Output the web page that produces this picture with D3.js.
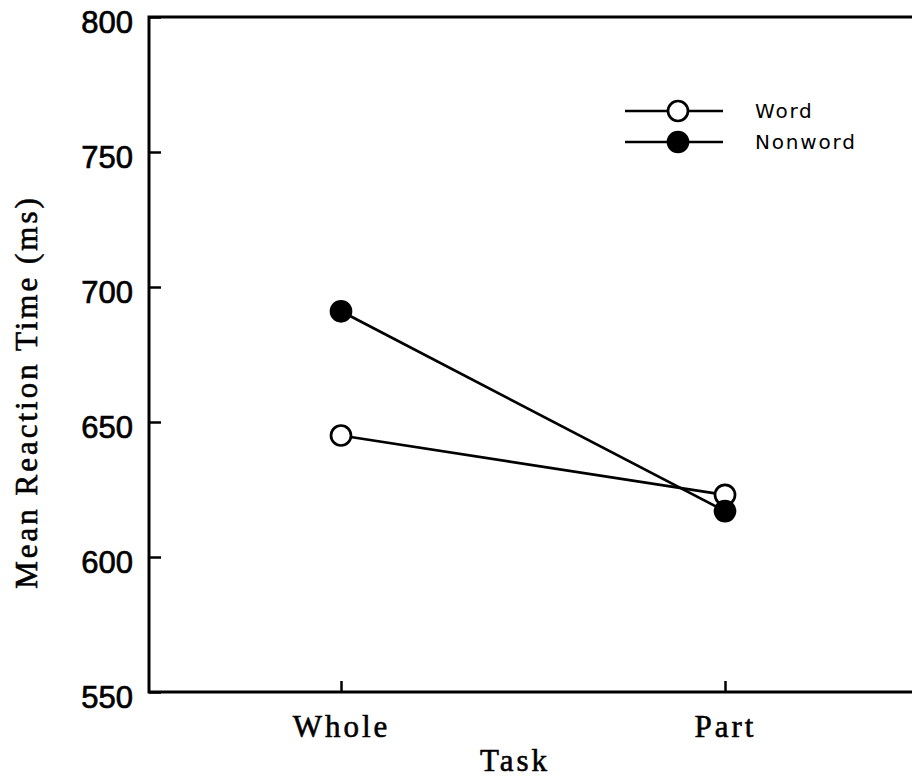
<!DOCTYPE html>
<html>
<head>
<meta charset="utf-8">
<script src="https://cdn.jsdelivr.net/npm/d3@7/dist/d3.min.js"></script>
<style>
  html, body { margin: 0; padding: 0; background: #fff; }
  svg { display: block; }
</style>
</head>
<body>
<script>
// Task conditions on the x axis
const tasks = ["Whole", "Part"];
// Mean reaction times (ms) per stimulus type
const wordRT = [645, 623];
const nonwordRT = [691, 617];
const seriesNames = ["Word", "Nonword"];
const yTicks = [550, 600, 650, 700, 750, 800];

const W = 912, H = 782;
const margin = { left: 149, right: 917, top: 17, bottom: 692 };

const svg = d3.select("body").append("svg")
  .attr("width", W).attr("height", H);

const x = d3.scalePoint().domain(tasks).range([margin.left, margin.right]).padding(0.5);
const y = d3.scaleLinear().domain([550, 800]).range([margin.bottom, margin.top]);

const serif = "'Liberation Serif', 'Times New Roman', serif";
const sans = "'Liberation Sans', Arial, sans-serif";

// frame around the plotting area
svg.append("rect")
  .attr("x", margin.left).attr("y", margin.top)
  .attr("width", margin.right - margin.left)
  .attr("height", margin.bottom - margin.top)
  .attr("fill", "none").attr("stroke", "#000").attr("stroke-width", 3);

// y axis: ticks pointing into the plot
const yAxis = svg.append("g")
  .attr("transform", `translate(${margin.left},0)`)
  .call(d3.axisLeft(y).tickValues(yTicks).tickSize(-12).tickPadding(16));
yAxis.select(".domain").remove();
yAxis.selectAll(".tick line").attr("stroke", "#000").attr("stroke-width", 2.5);
yAxis.selectAll(".tick text")
  .attr("dy", "0.5em")
  .attr("fill", "#000")
  .attr("stroke", "#000").attr("stroke-width", 0.7)
  .style("font-family", sans)
  .style("font-size", "31px");

// x axis: ticks pointing up
const xAxis = svg.append("g")
  .attr("transform", `translate(0,${margin.bottom})`)
  .call(d3.axisBottom(x).tickSize(-11).tickPadding(20));
xAxis.select(".domain").remove();
xAxis.selectAll(".tick line").attr("stroke", "#000").attr("stroke-width", 2.5);
xAxis.selectAll(".tick text")
  .attr("y", 45).attr("dy", 0)
  .attr("fill", "#000")
  .attr("stroke", "#000").attr("stroke-width", 0.6)
  .style("font-family", serif)
  .style("font-size", "31px")
  .style("letter-spacing", "3px");

// axis titles
svg.append("text")
  .attr("x", 515)
  .attr("y", 771)
  .attr("text-anchor", "middle")
  .attr("stroke", "#000").attr("stroke-width", 0.6)
  .style("font-family", serif)
  .style("font-size", "31px")
  .style("letter-spacing", "3px")
  .text("Task");

svg.append("text")
  .attr("transform", "translate(37,392) rotate(-90)")
  .attr("text-anchor", "middle")
  .attr("stroke", "#000").attr("stroke-width", 0.6)
  .style("font-family", serif)
  .style("font-size", "31px")
  .style("letter-spacing", "3px")
  .text("Mean Reaction Time (ms)");

// data series
const series = [
  { name: seriesNames[0], values: wordRT, fill: "#fff" },
  { name: seriesNames[1], values: nonwordRT, fill: "#000" }
];

const line = d3.line().x((d, i) => x(tasks[i])).y(d => y(d));

series.forEach(s => {
  svg.append("path")
    .attr("d", line(s.values))
    .attr("fill", "none").attr("stroke", "#000").attr("stroke-width", 2.7);
});
series.forEach(s => {
  svg.selectAll(null).data(s.values).enter().append("circle")
    .attr("cx", (d, i) => x(tasks[i]))
    .attr("cy", d => y(d))
    .attr("r", 10)
    .attr("fill", s.fill).attr("stroke", "#000").attr("stroke-width", 2.7);
});

// legend
const legend = svg.append("g");
series.forEach((s, i) => {
  const ly = 111 + i * 31;
  legend.append("line")
    .attr("x1", 625).attr("x2", 723).attr("y1", ly).attr("y2", ly)
    .attr("stroke", "#000").attr("stroke-width", 2.7);
  legend.append("circle")
    .attr("cx", 678).attr("cy", ly).attr("r", 10)
    .attr("fill", s.fill).attr("stroke", "#000").attr("stroke-width", 2.7);
  legend.append("text")
    .attr("x", 755).attr("y", ly + 7)
    .style("font-family", "'DejaVu Sans', sans-serif")
    .style("font-size", "20px")
    .style("letter-spacing", "1.8px")
    .text(s.name);
});
</script>
</body>
</html>
